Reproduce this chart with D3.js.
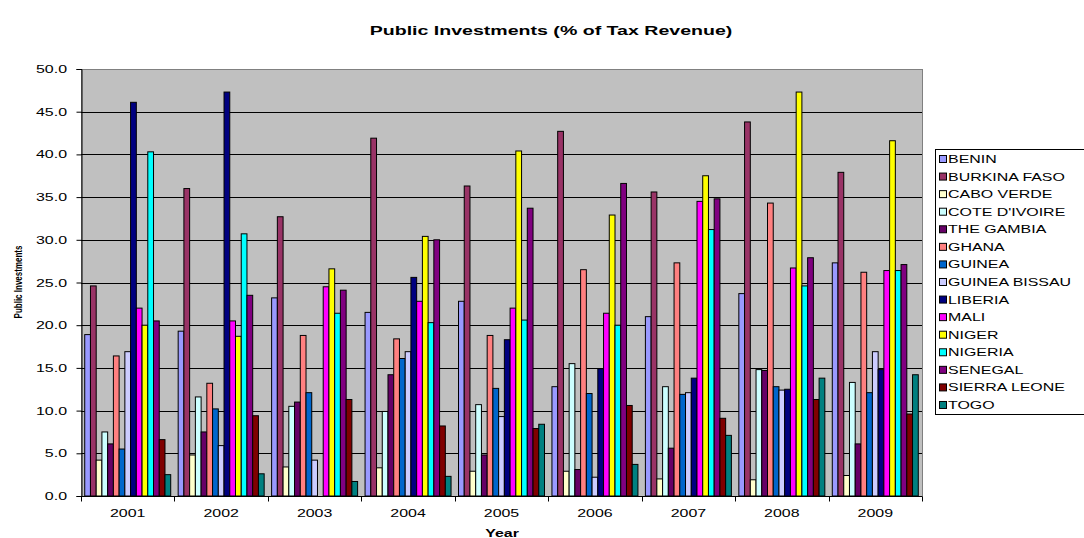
<!DOCTYPE html>
<html>
<head>
<meta charset="utf-8">
<script src="https://cdn.jsdelivr.net/npm/d3@7"></script>
<style>
  html, body { margin: 0; padding: 0; background: #fff; }
  svg { display: block; font-family: "Liberation Sans", Arial, sans-serif; }
</style>
</head>
<body>
<svg id="chart" width="1084" height="538"></svg>
<script>
// Public investments as a share of tax revenue, by country and year
const years = ["2001", "2002", "2003", "2004", "2005", "2006", "2007", "2008", "2009"];
const countries = ["BENIN", "BURKINA FASO", "CABO VERDE", "COTE D'IVOIRE", "THE GAMBIA", "GHANA",
  "GUINEA", "GUINEA BISSAU", "LIBERIA", "MALI", "NIGER", "NIGERIA", "SENEGAL", "SIERRA LEONE", "TOGO"];
const colors = ["#9999FF", "#993366", "#FFFFCC", "#CCFFFF", "#660066", "#FF8080", "#0066CC",
  "#CCCCFF", "#000080", "#FF00FF", "#FFFF00", "#00FFFF", "#800080", "#800000", "#008080"];

// one array per country, values for 2001..2009 (null = no data)
const benin        = [18.9, 19.3, 23.2, 21.5, 22.8, 12.8, 21.0, 23.7, 27.3];
const burkinaFaso  = [24.6, 36.0, 32.7, 41.9, 36.3, 42.7, 35.6, 43.8, 37.9];
const caboVerde    = [4.2, 4.8, 3.4, 3.3, 2.9, 2.9, 2.0, 1.9, 2.4];
const coteDIvoire  = [7.5, 11.6, 10.5, 9.9, 10.7, 15.5, 12.8, 14.8, 13.3];
const theGambia    = [6.1, 7.5, 11.0, 14.2, 4.8, 3.1, 5.6, 14.7, 6.1];
const ghana        = [16.4, 13.2, 18.8, 18.4, 18.8, 26.5, 27.3, 34.3, 26.2];
const guinea       = [5.5, 10.2, 12.1, 16.1, 12.6, 12.0, 11.9, 12.8, 12.1];
const guineaBissau = [16.9, 5.9, 4.2, 16.9, 9.3, 2.2, 12.1, 12.4, 16.9];
const liberia      = [46.1, 47.3, null, 25.6, 18.3, 14.9, 13.8, 12.5, 14.8];
const mali         = [22.0, 20.5, 24.5, 22.8, 22.0, 21.4, 34.5, 26.7, 26.4];
const niger        = [20.0, 18.7, 26.6, 30.4, 40.4, 32.9, 37.5, 47.3, 41.6];
const nigeria      = [40.3, 30.7, 21.4, 20.3, 20.6, 20.0, 31.2, 24.6, 26.4];
const senegal      = [20.5, 23.5, 24.1, 30.0, 33.7, 36.6, 34.8, 27.9, 27.1];
const sierraLeone  = [6.6, 9.4, 11.3, 8.2, 7.9, 10.6, 9.1, 11.3, 9.6];
const togo         = [2.5, 2.6, 1.7, 2.3, 8.4, 3.7, 7.1, 13.8, 14.2];

const seriesValues = [benin, burkinaFaso, caboVerde, coteDIvoire, theGambia, ghana, guinea,
  guineaBissau, liberia, mali, niger, nigeria, senegal, sierraLeone, togo];
const yTicks = [0, 5, 10, 15, 20, 25, 30, 35, 40, 45, 50];

const svg = d3.select("#chart");
const plot = { left: 81, right: 922, top: 69, bottom: 496 };
const SX = 1.45; // horizontal text stretch

const x0 = d3.scaleBand().domain(years).range([plot.left, plot.right]).paddingInner(0).paddingOuter(0);
const x1 = d3.scaleBand().domain(countries).range([0, x0.bandwidth()]).paddingInner(0).paddingOuter(0.65);
const y = d3.scaleLinear().domain([0, 50]).range([plot.bottom, plot.top]);

// plot background
svg.append("rect")
  .attr("x", plot.left).attr("y", plot.top)
  .attr("width", plot.right - plot.left).attr("height", plot.bottom - plot.top)
  .attr("fill", "#C0C0C0").attr("stroke", "#808080").attr("stroke-width", 1)
  .attr("shape-rendering", "crispEdges");

// horizontal gridlines
svg.append("g").selectAll("line").data(yTicks.filter(t => t > 0 && t < 50)).join("line")
  .attr("x1", plot.left).attr("x2", plot.right)
  .attr("y1", d => Math.round(y(d)) + 0.5).attr("y2", d => Math.round(y(d)) + 0.5)
  .attr("stroke", "#000").attr("stroke-width", 1);

// bars
const groups = svg.append("g").selectAll("g").data(years).join("g")
  .attr("transform", d => `translate(${x0(d)},0)`);
groups.selectAll("rect")
  .data((yr, yi) => countries.map((c, ci) => ({ c, ci, v: seriesValues[ci][yi] })).filter(d => d.v != null))
  .join("rect")
  .attr("x", d => x1(d.c))
  .attr("y", d => y(d.v))
  .attr("width", x1.bandwidth())
  .attr("height", d => y(0) - y(d.v))
  .attr("fill", d => colors[d.ci])
  .attr("stroke", "#000").attr("stroke-width", 1);

// y axis
const yAxis = svg.append("g").attr("transform", `translate(${plot.left + 0.5},0)`)
  .call(d3.axisLeft(y).tickValues(yTicks).tickSize(5).tickFormat(d => ""));
yAxis.select(".domain").attr("stroke", "#000");
yAxis.selectAll(".tick line").attr("stroke", "#000");
svg.append("g").selectAll("text").data(yTicks).join("text")
  .attr("transform", d => `translate(67,${y(d) + 4}) scale(${SX},1)`)
  .attr("text-anchor", "end").attr("font-size", 11).attr("fill", "#000")
  .text(d => d.toFixed(1));

// x axis with ticks on group boundaries
const xAxisG = svg.append("g").attr("transform", `translate(0,${plot.bottom + 0.5})`);
xAxisG.append("line").attr("x1", plot.left).attr("x2", plot.right).attr("stroke", "#000");
xAxisG.selectAll("line.t").data(years.concat(["end"])).join("line").attr("class", "t")
  .attr("x1", (d, i) => Math.round(plot.left + i * x0.bandwidth()) + 0.5)
  .attr("x2", (d, i) => Math.round(plot.left + i * x0.bandwidth()) + 0.5)
  .attr("y1", 0).attr("y2", 5).attr("stroke", "#000");
svg.append("g").selectAll("text").data(years).join("text")
  .attr("transform", d => `translate(${x0(d) + x0.bandwidth() / 2},517) scale(${SX},1)`)
  .attr("text-anchor", "middle").attr("font-size", 11).attr("fill", "#000")
  .text(d => d);

// titles
svg.append("text")
  .attr("transform", `translate(551,35) scale(${SX},1)`)
  .attr("text-anchor", "middle").attr("font-size", 13.5).attr("font-weight", "bold")
  .text("Public Investments (% of Tax Revenue)");
svg.append("text")
  .attr("transform", `translate(502,537) scale(${SX},1)`)
  .attr("text-anchor", "middle").attr("font-size", 11).attr("font-weight", "bold")
  .text("Year");
svg.append("text")
  .attr("transform", `translate(22,282) scale(${SX},1) rotate(-90)`)
  .attr("text-anchor", "middle").attr("font-size", 8).attr("font-weight", "bold")
  .text("Public Investments");

// legend
const legend = svg.append("g");
legend.append("rect")
  .attr("x", 935.5).attr("y", 149.5).attr("width", 160).attr("height", 265)
  .attr("fill", "#fff").attr("stroke", "#000").attr("stroke-width", 1);
const items = legend.selectAll("g.item").data(countries).join("g").attr("class", "item")
  .attr("transform", (d, i) => `translate(0,${159 + i * 17.57})`);
items.append("rect")
  .attr("x", 939.5).attr("y", -3.5).attr("width", 7).attr("height", 7)
  .attr("fill", (d, i) => colors[i]).attr("stroke", "#000").attr("stroke-width", 1);
items.append("text")
  .attr("transform", `translate(948,4) scale(${SX},1)`)
  .attr("font-size", 11).attr("fill", "#000")
  .text(d => d);
</script>
</body>
</html>
